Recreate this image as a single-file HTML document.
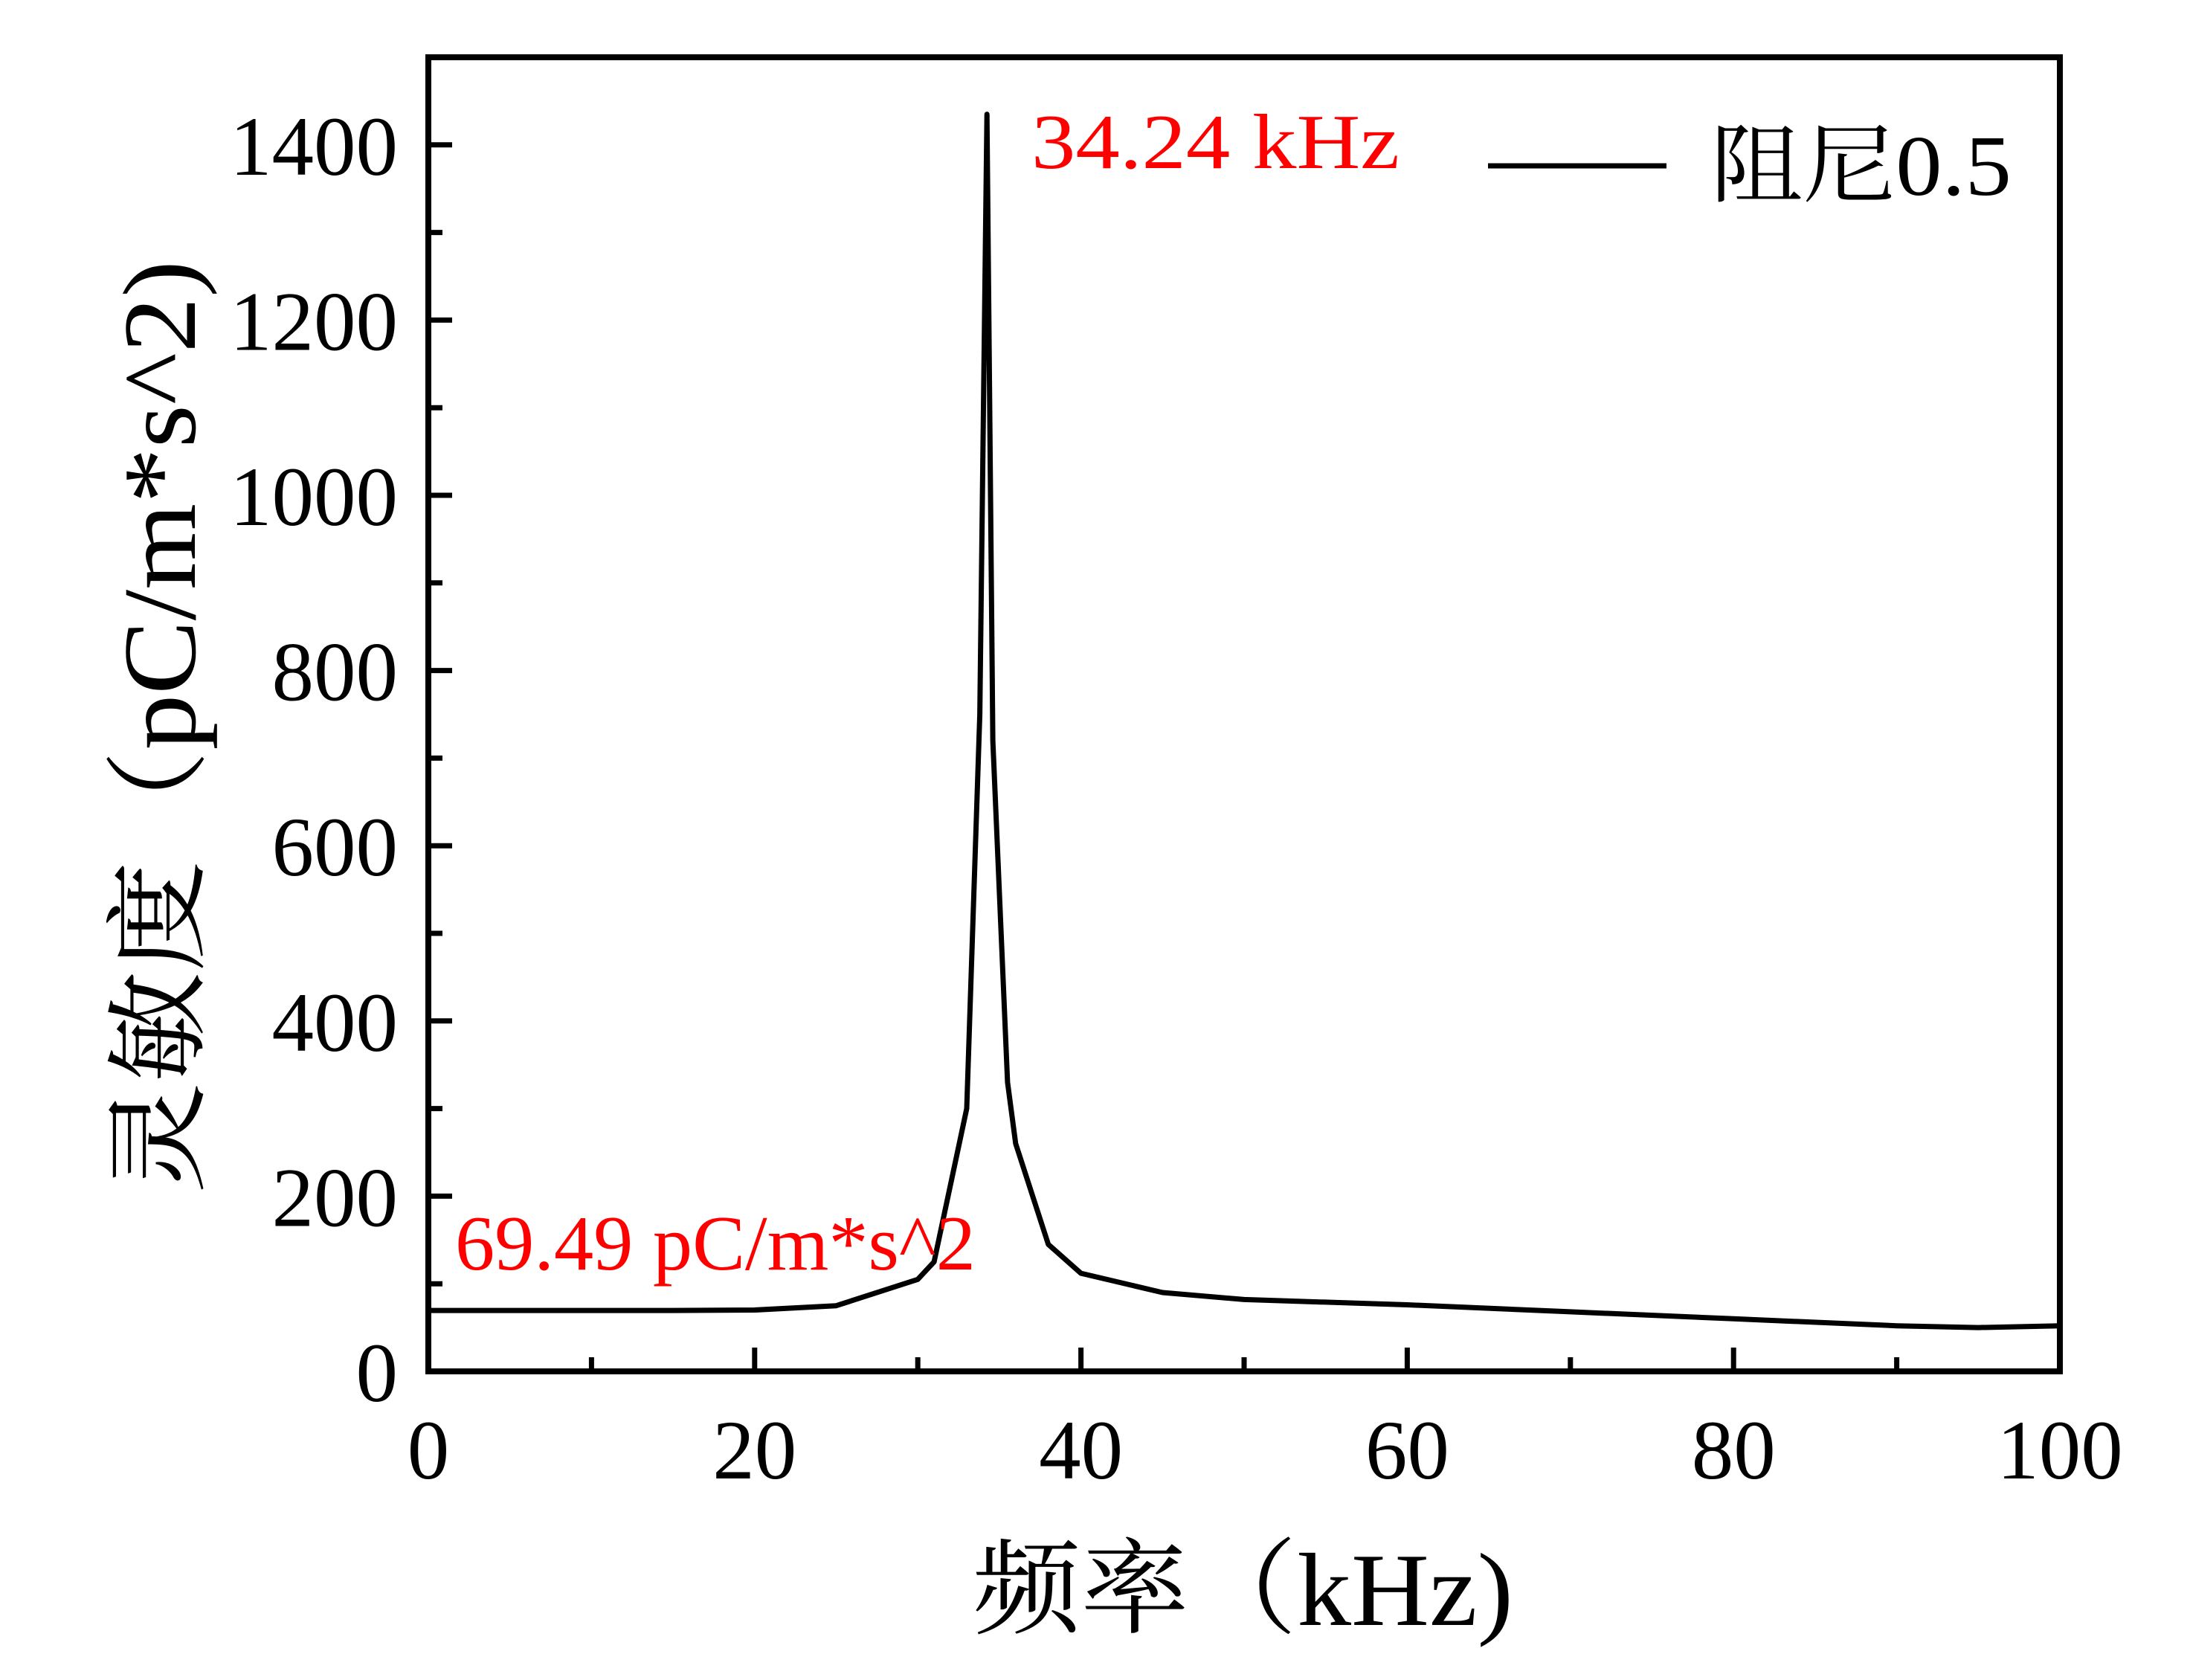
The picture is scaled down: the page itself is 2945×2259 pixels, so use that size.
<!DOCTYPE html>
<html><head><meta charset="utf-8"><style>html,body{margin:0;padding:0;background:#fff}svg{display:block}</style></head>
<body>
<svg id="chart" width="2945" height="2259" viewBox="0 0 2945 2259" xmlns="http://www.w3.org/2000/svg" font-family="'Liberation Serif','Noto Serif CJK SC',serif">
<g id="axes"></g>
<g id="series"></g>
<text x="1387" y="226" font-size="105" fill="#ff0000" textLength="495" lengthAdjust="spacingAndGlyphs">34.24 kHz</text>
<text x="612" y="1707" font-size="105" fill="#ff0000" textLength="700" lengthAdjust="spacingAndGlyphs">69.49 pC/m*s^2</text>
<g>
<line x1="2001" y1="223" x2="2241" y2="223" stroke="#000" stroke-width="7"/>
<text x="2300" y="262" font-size="115" fill="#000" textLength="405" lengthAdjust="spacingAndGlyphs">阻尼0.5</text>
</g>
<text transform="translate(262,1605) rotate(-90)" font-size="140" fill="#000" textLength="1255" lengthAdjust="spacingAndGlyphs">灵敏度（pC/m*s^2)</text>
<text x="1308" y="2185" font-size="140" fill="#000" textLength="727" lengthAdjust="spacingAndGlyphs">频率（kHz)</text>
</svg>
<script>
const freqs = [0, 5, 10, 15, 20, 25, 30, 31, 33, 33.8, 34.24, 34.6, 35.5, 36, 38, 40, 45, 50, 60, 70, 80, 90, 95, 100];
const sens = [69.5, 69.5, 69.5, 69.5, 70, 75, 105, 125, 300, 750, 1435, 720, 330, 260, 145, 112, 90, 82, 76, 68, 60, 52, 50, 52];
const xTicks = [0, 20, 40, 60, 80, 100];
const yTicks = [0, 200, 400, 600, 800, 1000, 1200, 1400];
const xMinor = [10, 30, 50, 70, 90];
const yMinor = [100, 300, 500, 700, 900, 1100, 1300];

const L = 576, R = 2770, T = 77, B = 1844;
const X_MAX = 100, Y_MAX = 1500;
const sx = v => L + (v / X_MAX) * (R - L);
const sy = v => B - (v / Y_MAX) * (B - T);
const NS = 'http://www.w3.org/2000/svg';
const axes = document.getElementById('axes');
const series = document.getElementById('series');
function mk(tag, attrs, parent) {
  const e = document.createElementNS(NS, tag);
  for (const k in attrs) e.setAttribute(k, attrs[k]);
  parent.appendChild(e);
  return e;
}
const frame = mk('rect', {x: L, y: T, width: R - L, height: B - T, fill: 'none', stroke: '#000', 'stroke-width': 8}, axes);


xTicks.forEach(v => {
  const t = mk('line', {x1: sx(v), y1: B, x2: sx(v), y2: B - 32, stroke: '#000', 'stroke-width': 7}, axes);
  
  
  const lb = mk('text', {x: sx(v), y: 1988, 'font-size': 113, 'text-anchor': 'middle', fill: '#000'}, axes);
  
  
  lb.textContent = v;
});
xMinor.forEach(v => {
  const t = mk('line', {x1: sx(v), y1: B, x2: sx(v), y2: B - 19, stroke: '#000', 'stroke-width': 7}, axes);
  
  
});
yTicks.forEach(v => {
  const t = mk('line', {x1: L, y1: sy(v), x2: L + 32, y2: sy(v), stroke: '#000', 'stroke-width': 7}, axes);
  
  
  const lb = mk('text', {x: 535, y: sy(v) + 40, 'font-size': 113, 'text-anchor': 'end', fill: '#000'}, axes);
  
  
  lb.textContent = v;
});
yMinor.forEach(v => {
  const t = mk('line', {x1: L, y1: sy(v), x2: L + 19, y2: sy(v), stroke: '#000', 'stroke-width': 7}, axes);
  
  
});
const pts = freqs.map((f, i) => sx(f).toFixed(1) + ',' + sy(sens[i]).toFixed(1)).join(' ');
const line = mk('polyline', {points: pts, fill: 'none', stroke: '#000', 'stroke-width': 7, 'stroke-linejoin': 'round'}, series);


</script>
</body></html>
